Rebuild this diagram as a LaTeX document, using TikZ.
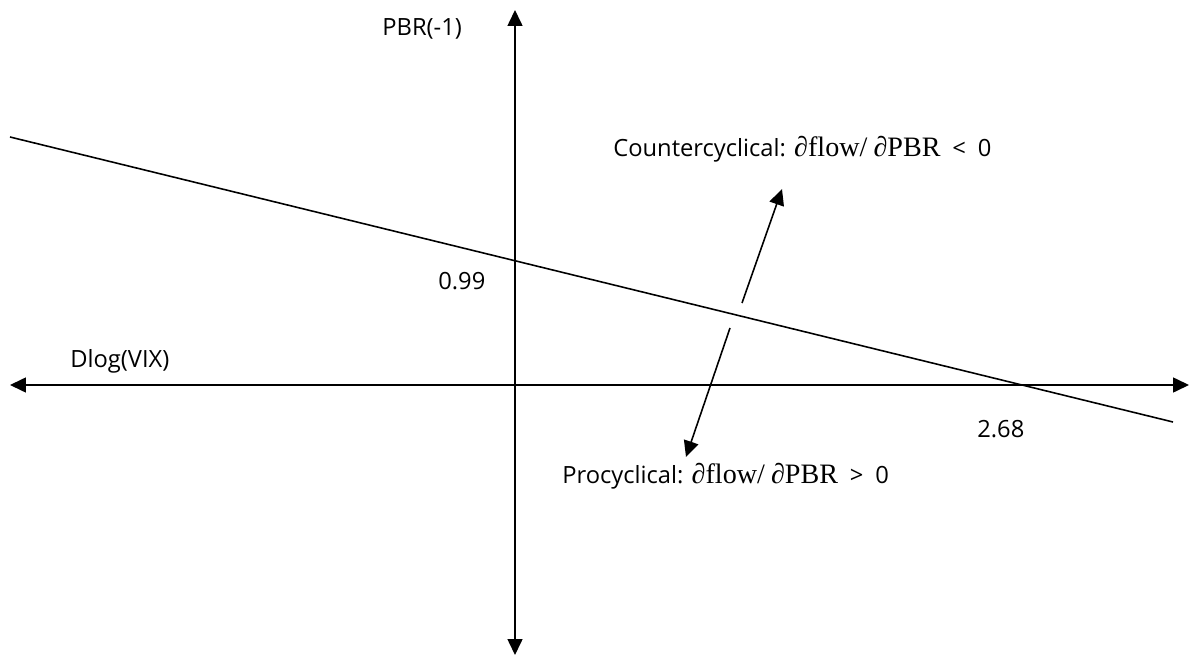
\documentclass[tikz,border=0pt]{standalone}
\usepackage{fontspec}
\setmainfont{Open Sans}
\newfontfamily\mathserif{Liberation Serif}
\usetikzlibrary{arrows.meta}

% partial derivative text in a serif face
\newcommand{\pdiff}[1]{{\fontsize{16}{18}\selectfont\mathserif{\itshape ∂}#1}}

\begin{document}
\begin{tikzpicture}[
  x=0.02cm, y=-0.02cm,
  font=\fontsize{13.5}{16}\selectfont,
  axis/.style={{Triangle[length=0.32cm, width=0.3cm]}-{Triangle[length=0.32cm, width=0.3cm]}, line width=0.9pt},
  arr/.style={-{Triangle[length=0.32cm, width=0.3cm]}, line width=0.9pt},
  lbl/.style={inner sep=0pt, anchor=base west}
]
\useasboundingbox (0,0) rectangle (1190,655);

% axes
\coordinate (ytop) at (515,10);
\coordinate (ybot) at (515,655);
\coordinate (xleft) at (10,385);
\coordinate (xright) at (1189,385);
\draw[axis] (ybot) -- (ytop);
\draw[axis] (xleft) -- (xright);

% regression line
\coordinate (lstart) at (10,137);
\coordinate (lend) at (1173,422);
\draw[line width=0.9pt] (lstart) -- (lend);

% labels
\node[lbl] (ylab) at (382,36) {PBR(-1)};
\node[lbl] (xlab) at (70,367) {Dlog(VIX)};
\node[lbl] (yval) at (438,290) {0.99};
\node[lbl] (xval) at (977,437) {2.68};
\node[lbl] (counter) at (613,157) {Countercyclical: \pdiff{flow/} \pdiff{PBR}\enspace<\enspace0};
\node[lbl] (pro) at (562,483) {Procyclical: \pdiff{flow/} \pdiff{PBR}\enspace>\enspace0};

% direction arrows
\coordinate (upfrom) at (742,303);
\coordinate (upto) at (782,189);
\coordinate (downfrom) at (730,328);
\coordinate (downto) at (686,457);
\draw[arr] (upfrom) -- (upto);
\draw[arr] (downfrom) -- (downto);
\end{tikzpicture}
\end{document}
